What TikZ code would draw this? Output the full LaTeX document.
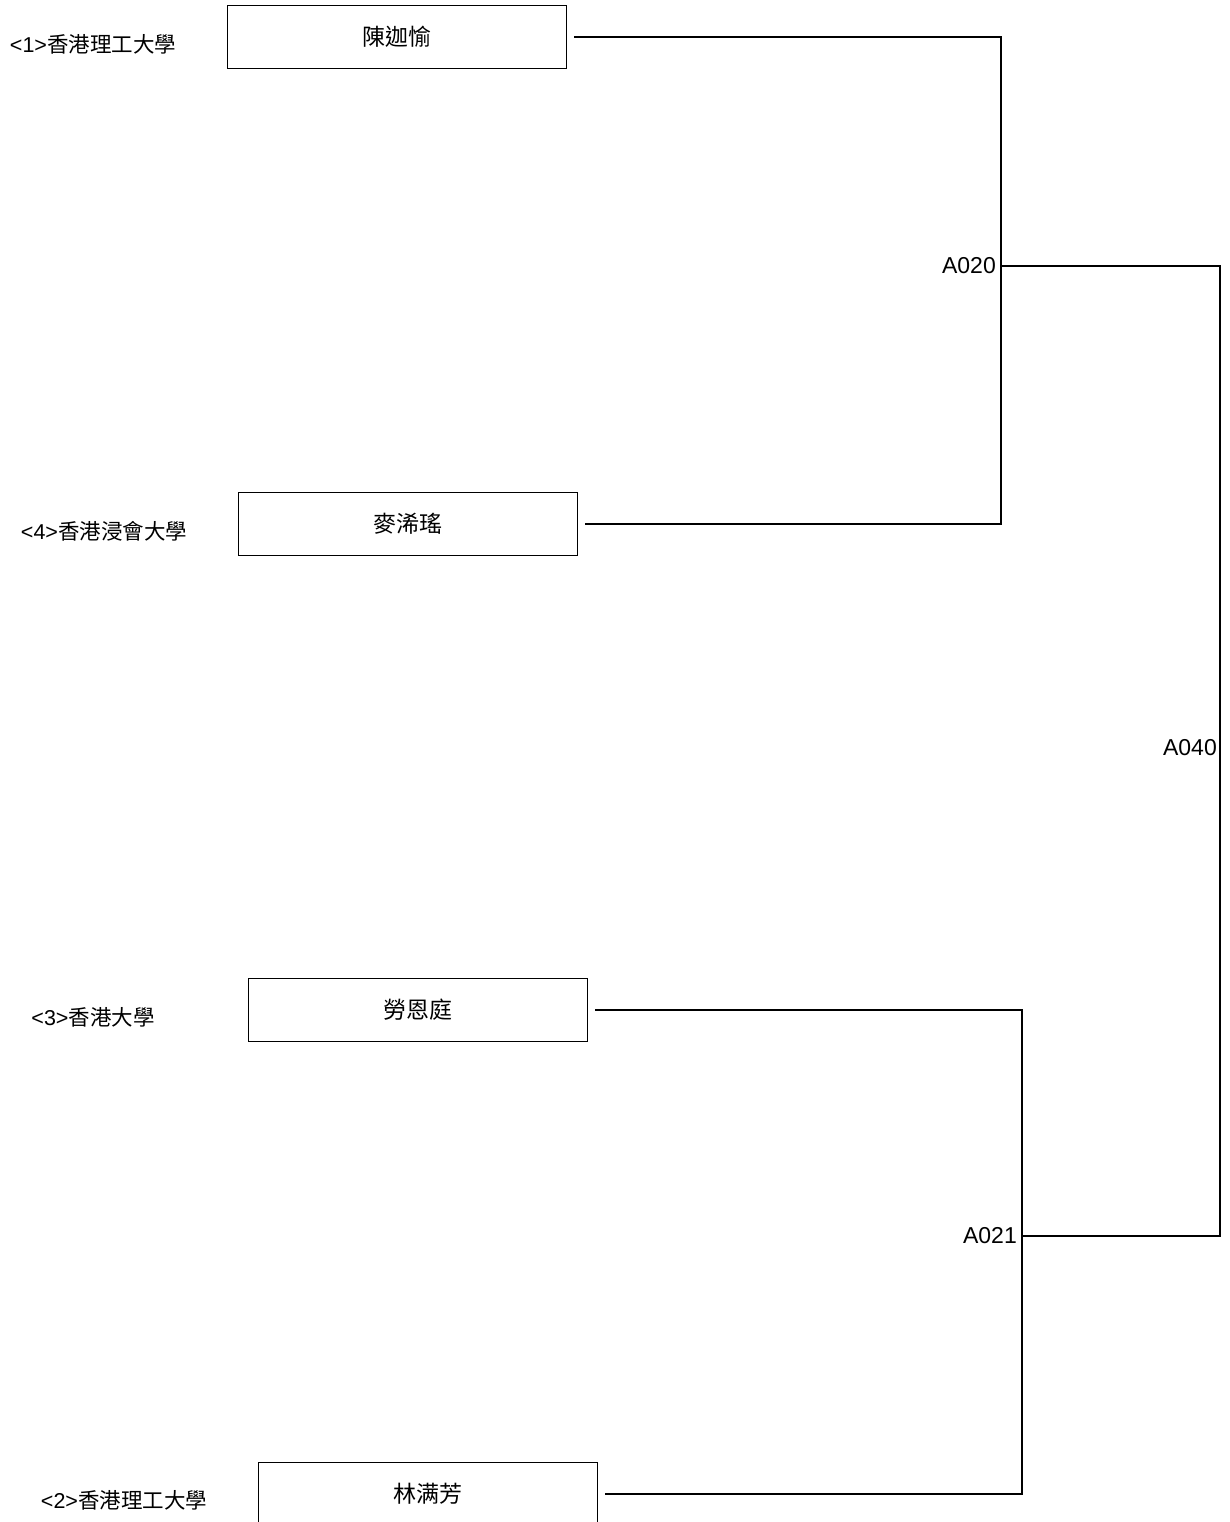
\documentclass[tikz,border=0pt]{standalone}
\usepackage{fontspec}
\setmainfont{Liberation Sans}
\newfontfamily\cjk{Noto Sans CJK TC}
\usepackage{tikz}
\usetikzlibrary{positioning}

\tikzset{
  namebox/.style={draw, line width=1.3pt, minimum width=339pt, minimum height=63pt, inner sep=0pt,
    font=\fontsize{23}{27}\selectfont\cjk},
  matchlabel/.style={anchor=east, inner sep=5pt, font=\fontsize{23}{27}\selectfont},
  link/.style={line width=1.3pt},
  gap/.style={shorten <=7pt, shorten >=7pt}
}

\begin{document}
\begin{tikzpicture}[x=1pt,y=-1pt,font=\fontsize{21.5}{25}\selectfont]
\useasboundingbox (0,0) rectangle (1230,1522);
% players
\node[namebox] (p1) at (397,37) {陳迦愉};
\node[namebox] (p4) at (408,524) {麥浠瑤};
\node[namebox] (p3) at (418,1010) {勞恩庭};
\node[namebox] (p2) at (428,1494) {林满芳};
% schools
\node (s1) at (93,44) {<1>{\cjk 香港理工大學}};
\node (s4) at (104,531) {<4>{\cjk 香港浸會大學}};
\node (s3) at (93,1017) {<3>{\cjk 香港大學}};
\node (s2) at (124,1500) {<2>{\cjk 香港理工大學}};
% matches
\coordinate (m20) at (1001,266);
\coordinate (m21) at (1022,1236);
\coordinate (m40) at (1220,748);
\draw[link, gap] (p1.east) -| (m20) |- (p4.east);
\draw[link, gap] (p3.east) -| (m21) |- (p2.east);
\draw[link] (m20) -| (m40) |- (m21);
\node[matchlabel] (l20) at (m20) {A020};
\node[matchlabel] (l21) at (m21) {A021};
\node[matchlabel, inner sep=3pt] (l40) at (m40) {A040};
\end{tikzpicture}
\end{document}
